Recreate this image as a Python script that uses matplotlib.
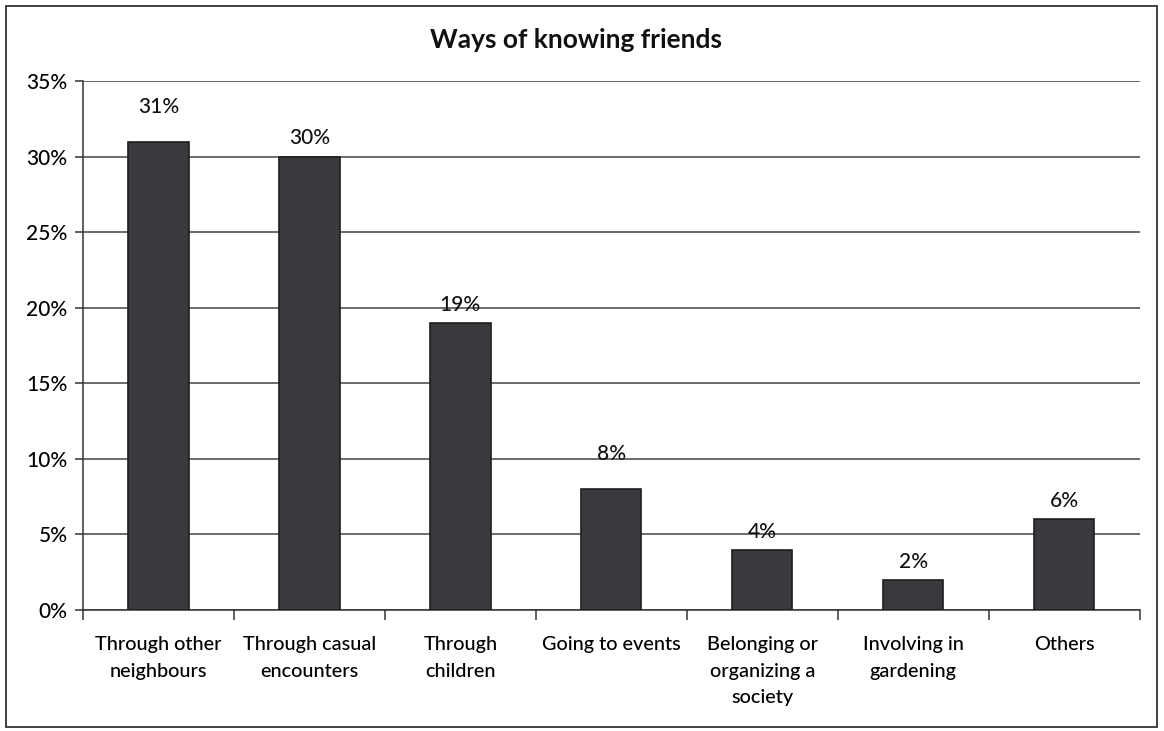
import matplotlib
matplotlib.use("Agg")
import matplotlib.pyplot as plt
from matplotlib.patches import Rectangle
from matplotlib.ticker import FuncFormatter, FixedLocator
import numpy as np

categories = [
    "Through other\nneighbours",
    "Through casual\nencounters",
    "Through\nchildren",
    "Going to events",
    "Belonging or\norganizing a\nsociety",
    "Involving in\ngardening",
    "Others",
]
shares = [31, 30, 19, 8, 4, 2, 6]
value_labels = ["31%", "30%", "19%", "8%", "4%", "2%", "6%"]
y_ticks = [0, 5, 10, 15, 20, 25, 30, 35]

plt.rcParams["font.family"] = ["Lato", "DejaVu Sans"]

fig = plt.figure(figsize=(11.64, 7.31), dpi=100)
ax = fig.add_axes([0.0713, 0.1655, 0.9077, 0.7235])

x = np.arange(len(categories))
bars = ax.bar(x, shares, width=0.4, color="#383a3d", edgecolor="#1e1e1e",
              linewidth=1.2, zorder=3)

# gap (pixels) between bar top and the centre of its value label
label_gaps = [35, 19, 18, 35, 18, 18, 18]
for bar, text, gap in zip(bars, value_labels, label_gaps):
    ax.annotate(text, (bar.get_x() + bar.get_width() / 2, bar.get_height()),
                xytext=(0, gap), textcoords="offset pixels",
                ha="center", va="center", fontsize=15, fontweight="medium",
                color="#111111", zorder=4)

ax.set_xlim(-0.5, len(categories) - 0.5)
ax.set_ylim(0, 35)
ax.yaxis.set_major_locator(FixedLocator(y_ticks))
ax.yaxis.set_major_formatter(FuncFormatter(lambda v, _: f"{v:.0f}%"))
ax.grid(axis="y", color="#444444", linewidth=1.1, zorder=0)

ax.set_xticks(x)
ax.set_xticklabels(categories, fontsize=14.3, fontweight="medium",
                   linespacing=1.65)
ax.tick_params(axis="x", length=0, pad=19)
ax.set_xticks(np.arange(-0.5, len(categories)), minor=True)
ax.tick_params(axis="x", which="minor", length=7, width=1.1, color="#333333")
ax.tick_params(axis="y", length=6, width=1.1, color="#333333",
               labelsize=15, pad=5)
for lbl in ax.get_yticklabels():
    lbl.set_fontweight("medium")

for side in ("top", "right"):
    ax.spines[side].set_visible(False)
ax.spines["left"].set_color("#333333")
ax.spines["left"].set_linewidth(1.1)
ax.spines["bottom"].set_color("#333333")
ax.spines["bottom"].set_linewidth(1.1)

fig.text(0.495, 0.945, "Ways of knowing friends", ha="center", va="center",
         fontsize=19, fontweight="bold", color="#111111")

fig.patches.append(Rectangle((0.005, 0.006), 0.989, 0.986, transform=fig.transFigure,
                             fill=False, edgecolor="#333333", linewidth=1.3))

fig.savefig("out.png", dpi=100)
